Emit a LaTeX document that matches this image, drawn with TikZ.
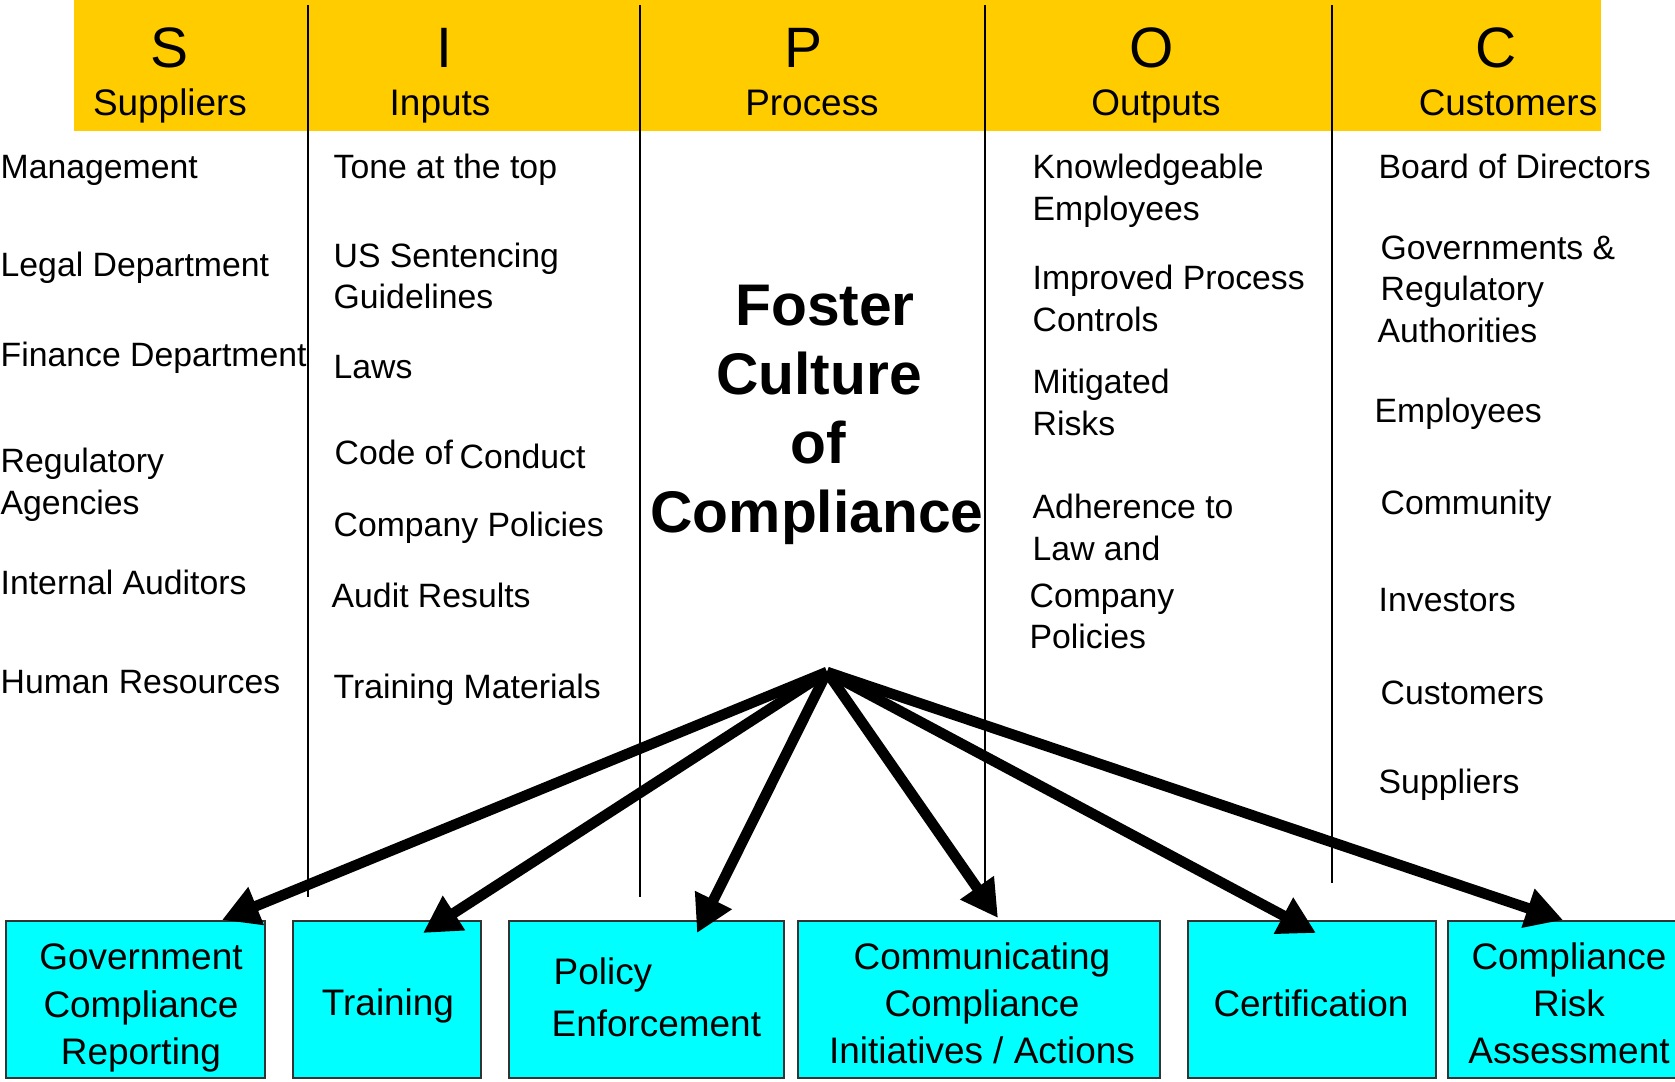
\documentclass[tikz,border=0pt]{standalone}
\usepackage{fontspec}
\setmainfont{Liberation Sans}
\usetikzlibrary{arrows.meta}
\definecolor{hdr}{HTML}{FFCC00}
\definecolor{boxc}{HTML}{00FFFF}
\begin{document}
\begin{tikzpicture}[x=0.01cm,y=-0.01cm,
  body/.style={anchor=base west,inner sep=0pt,font=\fontsize{9.6pt}{11.9pt}\selectfont},
  letter/.style={anchor=base,inner sep=0pt,font=\fontsize{16.2pt}{19pt}\selectfont},
  word/.style={anchor=base,inner sep=0pt,font=\fontsize{10.5pt}{12.6pt}\selectfont},
  big/.style={anchor=base,inner sep=0pt,font=\fontsize{16.7pt}{20pt}\selectfont\bfseries},
  outbox/.style={draw=black!80,line width=0.6pt,fill=boxc,inner sep=0pt,outer sep=0pt,minimum height=1.57cm},
  boxtext/.style={align=center,inner sep=0pt,font=\fontsize{10.5pt}{13.4pt}\selectfont},
  boxline/.style={anchor=base west,inner sep=0pt,font=\fontsize{10.5pt}{13.4pt}\selectfont},
  sepline/.style={line width=0.5pt},
  fan/.style={line width=3pt,-{Triangle[length=10.5pt,width=11pt]}}
]
\useasboundingbox (0,0) rectangle (1675,1081);
% header band
\fill[hdr] (73.5,0) rectangle (1601,130.5);
% column separators
\draw[sepline] (308,5) -- (308,897);
\draw[sepline] (640,5) -- (640,897);
\draw[sepline] (985,5) -- (985,885);
\draw[sepline] (1332,5) -- (1332,883);
% header letters and words
\node[letter] (hS) at (169,67) {S};
\node[letter] (hI) at (444,67) {I};
\node[letter] (hP) at (803,67) {P};
\node[letter] (hO) at (1152,67) {O};
\node[letter] (hC) at (1496,67) {C};
\node[word] (wS) at (170,115) {Suppliers};
\node[word] (wI) at (440,115) {Inputs};
\node[word] (wP) at (812,115) {Process};
\node[word] (wO) at (1156,115) {Outputs};
\node[word] (wC) at (1508,115) {Customers};
% suppliers
\node[body] (s1) at (0,178) {Management};
\node[body] (s2) at (0,276.5) {Legal Department};
\node[body] (s3) at (0,366) {Finance Department};
\node[body] (s4a) at (0,472) {Regulatory};
\node[body] (s4b) at (0,514) {Agencies};
\node[body] (s5) at (0,594) {Internal Auditors};
\node[body] (s6) at (0,693) {Human Resources};
% inputs
\node[body] (i1) at (333,178) {Tone at the top};
\node[body] (i2a) at (333,267) {US Sentencing};
\node[body] (i2b) at (333,308.5) {Guidelines};
\node[body] (i3) at (333,378) {Laws};
\node[body] (i4a) at (334,464) {Code of};
\node[body] (i4b) at (459,468) {Conduct};
\node[body] (i5) at (333,536) {Company Policies};
\node[body] (i6) at (331,607) {Audit Results};
\node[body] (i7) at (333,698.5) {Training Materials};
% process
\node[big] (f1) at (825,325) {Foster};
\node[big] (f2) at (819,394) {Culture};
\node[big] (f3) at (818,463) {of};
\node[big] (f4) at (817,532) {Compliance};
% outputs
\node[body] (o1a) at (1032,178) {Knowledgeable};
\node[body] (o1b) at (1032,220) {Employees};
\node[body] (o2a) at (1032,289.5) {Improved Process};
\node[body] (o2b) at (1032,331) {Controls};
\node[body] (o3a) at (1032,393) {Mitigated};
\node[body] (o3b) at (1032,435) {Risks};
\node[body] (o4a) at (1032,518) {Adherence to};
\node[body] (o4b) at (1032,560) {Law and};
\node[body] (o4c) at (1029,607) {Company};
\node[body] (o4d) at (1029,648.5) {Policies};
% customers
\node[body] (c1) at (1378,178) {Board of Directors};
\node[body] (c2a) at (1380,259.5) {Governments \&};
\node[body] (c2b) at (1380,300) {Regulatory};
\node[body] (c2c) at (1377,342) {Authorities};
\node[body] (c3) at (1374,422) {Employees};
\node[body] (c4) at (1380,514) {Community};
\node[body] (c5) at (1378,611) {Investors};
\node[body] (c6) at (1380,704) {Customers};
\node[body] (c7) at (1378,793.5) {Suppliers};
% bottom boxes
\node[outbox,minimum width=2.586cm] (b1) at (135.7,999.5) {};
\node[outbox,minimum width=1.88cm] (b2) at (387,999.5) {};
\node[outbox,minimum width=2.74cm] (b3) at (646.5,999.5) {};
\node[outbox,minimum width=3.62cm] (b4) at (979,999.5) {};
\node[outbox,minimum width=2.47cm] (b5) at (1312,999.5) {};
\node[outbox,minimum width=2.52cm] (b6) at (1574,999.5) {};
\node[boxtext] (t1) at (141,1008) {Government\\Compliance\\Reporting};
\node[boxtext] (t2) at (388,1006) {Training};
\node[boxline] (t3a) at (553,984) {Policy};
\node[boxline] (t3b) at (551,1036) {Enforcement};
\node[boxtext] (t4) at (982,1003) {Communicating\\Compliance\\Initiatives / Actions};
\node[boxtext] (t5) at (1311,1003) {Certification};
\node[boxtext] (t6) at (1569,1003) {Compliance\\Risk\\Assessment};
% arrows
\coordinate (apex) at (827,672);
\coordinate (e1) at (222,920);
\coordinate (e2) at (423,933);
\coordinate (e3) at (697,933);
\coordinate (e4) at (998,918);
\coordinate (e5) at (1316,933);
\coordinate (e6) at (1563,920);
\draw[fan] (apex) -- (e1);
\draw[fan] (apex) -- (e2);
\draw[fan] (apex) -- (e3);
\draw[fan] (apex) -- (e4);
\draw[fan] (apex) -- (e5);
\draw[fan] (apex) -- (e6);
\end{tikzpicture}
\end{document}
